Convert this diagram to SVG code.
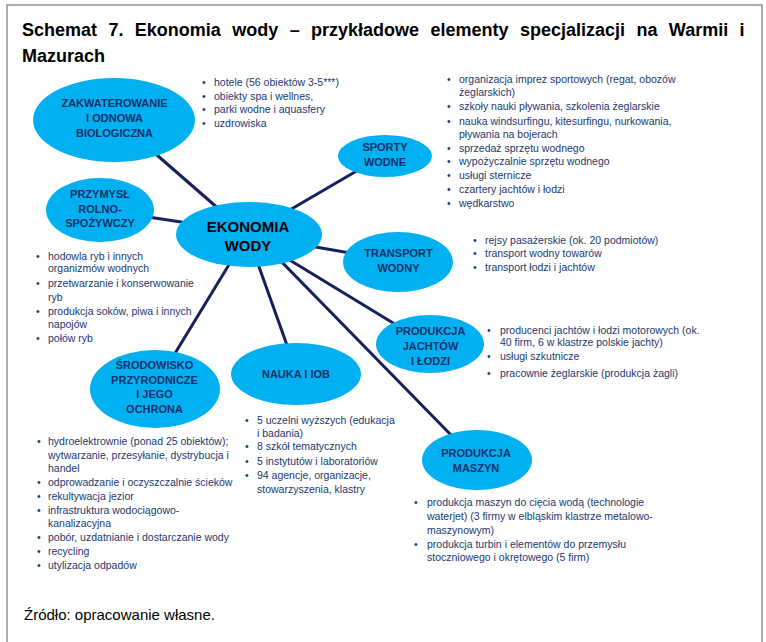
<svg xmlns="http://www.w3.org/2000/svg" width="766" height="642" viewBox="0 0 766 642">
<style>
.frame{fill:#fff;stroke:#8c929c;stroke-width:1.5}
.title{font-family:"Liberation Sans",Arial,sans-serif;font-weight:bold;font-size:18px;fill:#000}
.ell{fill:#00b0f0}
.lbl{font-family:"Liberation Sans",Arial,sans-serif;font-weight:bold;font-size:11px;fill:#14306a;text-anchor:middle}
.clbl{font-family:"Liberation Sans",Arial,sans-serif;font-weight:bold;font-size:15px;fill:#000;text-anchor:middle}
.li{font-family:"Liberation Sans",Arial,sans-serif;font-size:10.5px;fill:#22386e}
.con line{stroke:#14215a;stroke-width:3;stroke-linecap:butt}
.foot{font-family:"Liberation Sans",Arial,sans-serif;font-size:15px;fill:#000}
</style>
<rect class="frame" x="7" y="5" width="755" height="700"/>
<text class="title" x="22" y="36" word-spacing="6.4">Schemat 7. Ekonomia wody – przykładowe elementy specjalizacji na Warmii i</text>
<text class="title" x="22" y="62">Mazurach</text>

<g id="connectors" class="con">
<line x1="150" y1="149" x2="220" y2="210"/>
<line x1="288" y1="211" x2="360" y2="169"/>
<line x1="148" y1="217" x2="188" y2="223"/>
<line x1="310" y1="246" x2="350" y2="253"/>
<line x1="230" y1="263" x2="174" y2="355"/>
<line x1="258" y1="264" x2="288" y2="348"/>
<line x1="288" y1="259" x2="398" y2="326"/>
<line x1="270" y1="250" x2="452" y2="436"/>
</g>

<g id="node-ekonomia">
<ellipse class="ell" cx="249" cy="234.5" rx="73" ry="32.5"/>
<text class="clbl" x="248" y="231.5">EKONOMIA</text>
<text class="clbl" x="248" y="250.5">WODY</text>
</g>

<g id="node-zakwaterowanie">
<ellipse class="ell" cx="114" cy="120" rx="81" ry="42"/>
<text class="lbl" x="114.5" y="107">ZAKWATEROWANIE</text>
<text class="lbl" x="114.5" y="122">I ODNOWA</text>
<text class="lbl" x="114.5" y="137">BIOLOGICZNA</text>
<text class="li" x="202" y="86">•</text><text class="li" x="214" y="86">hotele (56 obiektów 3-5***)</text>
<text class="li" x="202" y="99.5">•</text><text class="li" x="214" y="99.5">obiekty spa i wellnes,</text>
<text class="li" x="202" y="113">•</text><text class="li" x="214" y="113">parki wodne i aquasfery</text>
<text class="li" x="202" y="126.5">•</text><text class="li" x="214" y="126.5">uzdrowiska</text>
</g>

<g id="node-sporty">
<ellipse class="ell" cx="385" cy="156" rx="47" ry="21"/>
<text class="lbl" x="385" y="151">SPORTY</text>
<text class="lbl" x="385" y="166">WODNE</text>
<text class="li" x="447" y="83">•</text><text class="li" x="459" y="83">organizacja imprez sportowych (regat, obozów</text>
<text class="li" x="459" y="96">żeglarskich)</text>
<text class="li" x="447" y="109.5">•</text><text class="li" x="459" y="109.5">szkoły nauki pływania, szkolenia żeglarskie</text>
<text class="li" x="447" y="124.5">•</text><text class="li" x="459" y="124.5">nauka windsurfingu, kitesurfingu, nurkowania,</text>
<text class="li" x="459" y="137.5">pływania na bojerach</text>
<text class="li" x="447" y="152">•</text><text class="li" x="459" y="152">sprzedaż sprzętu wodnego</text>
<text class="li" x="447" y="165">•</text><text class="li" x="459" y="165">wypożyczalnie sprzętu wodnego</text>
<text class="li" x="447" y="179">•</text><text class="li" x="459" y="179">usługi sternicze</text>
<text class="li" x="447" y="192.5">•</text><text class="li" x="459" y="192.5">czartery jachtów i łodzi</text>
<text class="li" x="447" y="207">•</text><text class="li" x="459" y="207">wędkarstwo</text>
</g>

<g id="node-przemysl">
<ellipse class="ell" cx="100" cy="210" rx="54" ry="32"/>
<text class="lbl" x="100" y="198">PRZYMYSŁ</text>
<text class="lbl" x="100" y="213">ROLNO-</text>
<text class="lbl" x="100" y="227">SPOŻYWCZY</text>
<text class="li" x="36" y="259.5">•</text><text class="li" x="48" y="259.5">hodowla ryb i innych</text>
<text class="li" x="48" y="272">organizmów wodnych</text>
<text class="li" x="36" y="286.5">•</text><text class="li" x="48" y="286.5">przetwarzanie i konserwowanie</text>
<text class="li" x="48" y="300.5">ryb</text>
<text class="li" x="36" y="314.5">•</text><text class="li" x="48" y="314.5">produkcja soków,  piwa i innych</text>
<text class="li" x="48" y="327.5">napojów</text>
<text class="li" x="36" y="341.5">•</text><text class="li" x="48" y="341.5">połów ryb</text>
</g>

<g id="node-transport">
<ellipse class="ell" cx="398" cy="262" rx="55" ry="30"/>
<text class="lbl" x="398.5" y="257">TRANSPORT</text>
<text class="lbl" x="398.5" y="272">WODNY</text>
<text class="li" x="473" y="244">•</text><text class="li" x="485" y="244">rejsy pasażerskie (ok. 20 podmiotów)</text>
<text class="li" x="473" y="257">•</text><text class="li" x="485" y="257">transport wodny towarów</text>
<text class="li" x="473" y="271">•</text><text class="li" x="485" y="271">transport łodzi i jachtów</text>
</g>

<g id="node-jachty">
<ellipse class="ell" cx="430" cy="344" rx="54" ry="29"/>
<text class="lbl" x="430.5" y="335">PRODUKCJA</text>
<text class="lbl" x="430.5" y="350">JACHTÓW</text>
<text class="lbl" x="430.5" y="365">I ŁODZI</text>
<text class="li" x="487" y="333.5">•</text><text class="li" x="500" y="333.5">producenci jachtów i łodzi motorowych (ok.</text>
<text class="li" x="500" y="346">40 firm, 6 w klastrze polskie jachty)</text>
<text class="li" x="487" y="360">•</text><text class="li" x="500" y="360">usługi szkutnicze</text>
<text class="li" x="487" y="377">•</text><text class="li" x="500" y="377">pracownie żeglarskie (produkcja żagli)</text>
</g>

<g id="node-nauka">
<ellipse class="ell" cx="296" cy="374" rx="65" ry="31"/>
<text class="lbl" x="296" y="378">NAUKA I IOB</text>
<text class="li" x="245" y="423.5">•</text><text class="li" x="257" y="423.5">5 uczelni wyższych (edukacja</text>
<text class="li" x="257" y="437">i badania)</text>
<text class="li" x="245" y="450">•</text><text class="li" x="257" y="450">8 szkół tematycznych</text>
<text class="li" x="245" y="464.5">•</text><text class="li" x="257" y="464.5">5 instytutów i laboratoriów</text>
<text class="li" x="245" y="478.5">•</text><text class="li" x="257" y="478.5">94 agencje, organizacje,</text>
<text class="li" x="257" y="492.5">stowarzyszenia, klastry</text>
</g>

<g id="node-srodowisko">
<ellipse class="ell" cx="155" cy="389" rx="65" ry="39"/>
<text class="lbl" x="154.5" y="369">ŚRODOWISKO</text>
<text class="lbl" x="154.5" y="384">PRZYRODNICZE</text>
<text class="lbl" x="154.5" y="398">I JEGO</text>
<text class="lbl" x="154.5" y="413">OCHRONA</text>
<text class="li" x="37" y="444.5">•</text><text class="li" x="48" y="444.5">hydroelektrownie (ponad 25 obiektów);</text>
<text class="li" x="48" y="458.5">wytwarzanie, przesyłanie, dystrybucja i</text>
<text class="li" x="48" y="472">handel</text>
<text class="li" x="37" y="486">•</text><text class="li" x="48" y="486">odprowadzanie i oczyszczalnie ścieków</text>
<text class="li" x="37" y="499.5">•</text><text class="li" x="48" y="499.5">rekultywacja jezior</text>
<text class="li" x="37" y="513.5">•</text><text class="li" x="48" y="513.5">infrastruktura wodociągowo-</text>
<text class="li" x="48" y="527">kanalizacyjna</text>
<text class="li" x="37" y="541">•</text><text class="li" x="48" y="541">pobór, uzdatnianie i dostarczanie  wody</text>
<text class="li" x="37" y="555">•</text><text class="li" x="48" y="555">recycling</text>
<text class="li" x="37" y="569">•</text><text class="li" x="48" y="569">utylizacja odpadów</text>
</g>

<g id="node-maszyny">
<ellipse class="ell" cx="477" cy="460" rx="55" ry="30"/>
<text class="lbl" x="476" y="457">PRODUKCJA</text>
<text class="lbl" x="476" y="472">MASZYN</text>
<text class="li" x="414" y="506">•</text><text class="li" x="427" y="506">produkcja maszyn do cięcia wodą (technologie</text>
<text class="li" x="427" y="519.5">waterjet) (3 firmy w elbląskim klastrze metalowo-</text>
<text class="li" x="427" y="533.5">maszynowym)</text>
<text class="li" x="414" y="548">•</text><text class="li" x="427" y="548">produkcja turbin i elementów do przemysłu</text>
<text class="li" x="427" y="561">stoczniowego i okrętowego (5 firm)</text>
</g>

<text class="foot" x="24" y="620">Źródło: opracowanie własne.</text>
</svg>
